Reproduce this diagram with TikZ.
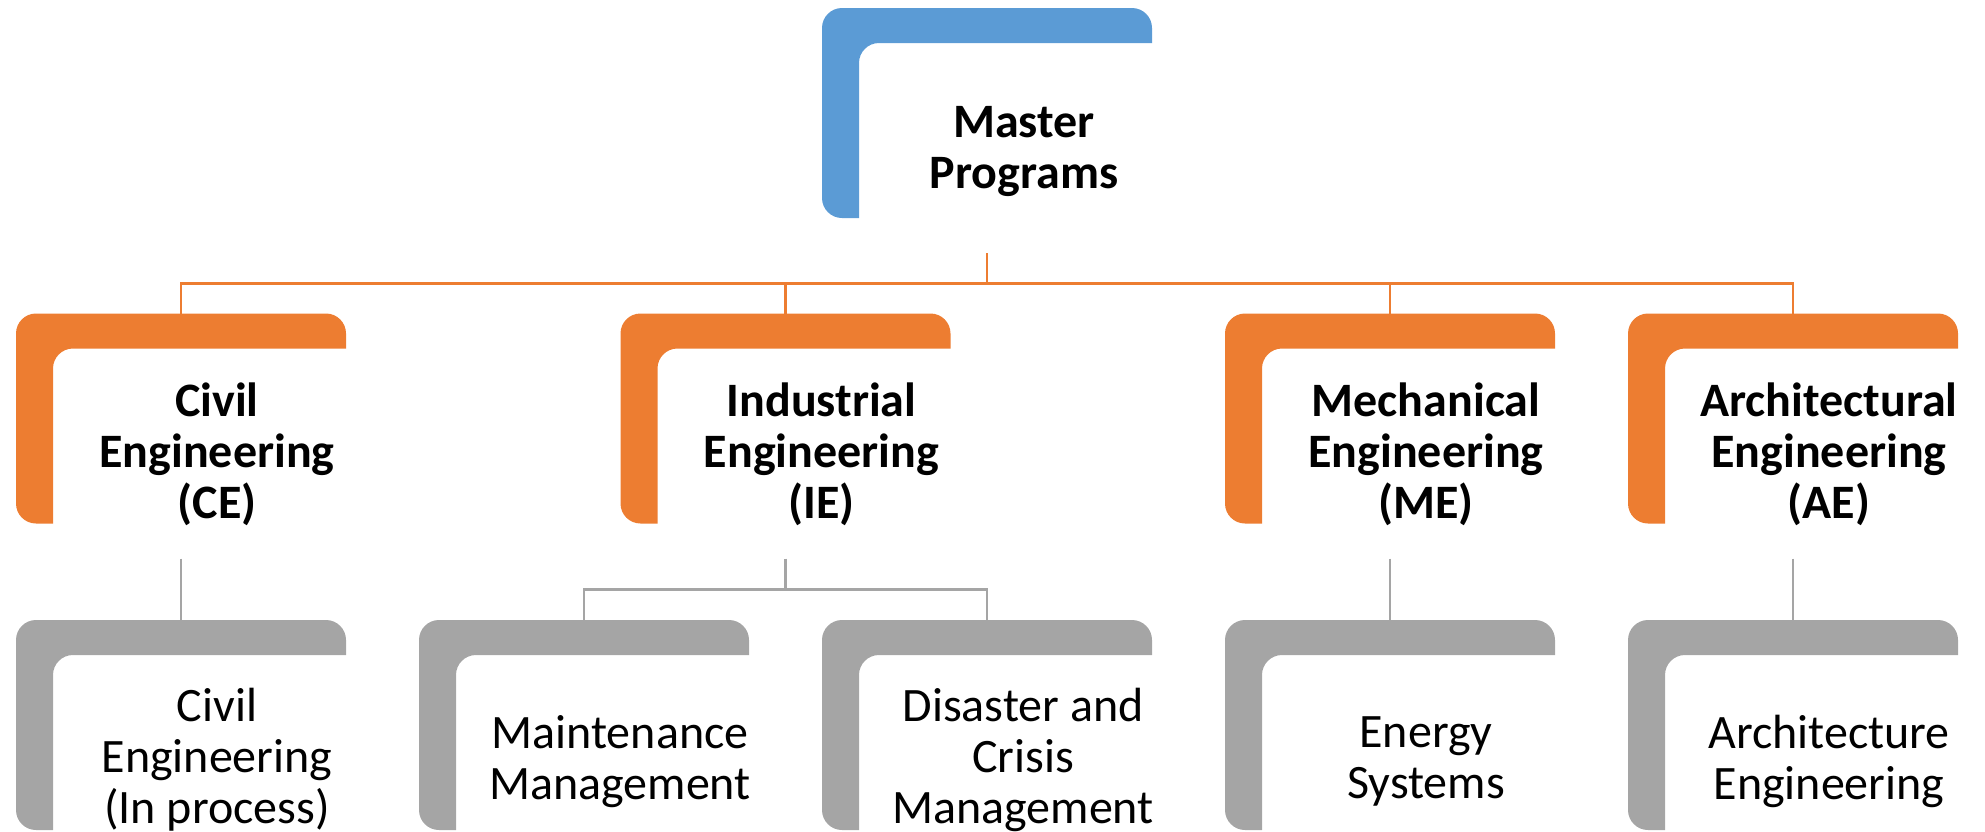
\documentclass[tikz,border=0pt]{standalone}
\usepackage{fontspec}
\setmainfont{Carlito}

\definecolor{progblue}{HTML}{5B9BD5}
\definecolor{deptorange}{HTML}{ED7D31}
\definecolor{trackgray}{HTML}{A5A5A5}

\tikzset{
	cornerbox/.style={minimum width=330pt, minimum height=210pt,
		inner sep=0pt, outer sep=0pt,
		path picture={
			\fill[#1] (path picture bounding box.north east) ++(0,-35) -- ++(0,15)
				arc[start angle=0, end angle=90, radius=20pt] -- ++(-290,0)
				arc[start angle=90, end angle=180, radius=20pt] -- ++(0,-170)
				arc[start angle=180, end angle=270, radius=20pt] -- ++(17,0)
				-- ++(0,155) arc[start angle=180, end angle=90, radius=20pt] -- cycle;
		}},
	headtext/.style={font=\bfseries\fontsize{48}{51}\selectfont, align=center,
		execute at begin node=\strut, execute at end node=\strut},
	depttext/.style={font=\bfseries\fontsize{48}{51}\selectfont, align=center,
		execute at begin node=\strut, execute at end node=\strut},
	tracktext/.style={font=\fontsize{48}{51}\selectfont, align=center,
		execute at begin node=\strut, execute at end node=\strut},
	orangelink/.style={draw=deptorange, line width=2.5pt},
	graylink/.style={draw=trackgray, line width=2.5pt}
}

\begin{document}
\begin{tikzpicture}[x=1pt, y=1pt]
	\useasboundingbox (0,0) rectangle (1985,-831);

	% top level
	\node[cornerbox=progblue] (master) at (987,-113) {};
	\node[headtext] (master-t) at ([shift={(37,-42)}]master.center)
		{Master\\Programs};

	% departments
	\node[cornerbox=deptorange] (ce) at (181,-418.5) {};
	\node[cornerbox=deptorange] (ie) at (785.5,-418.5) {};
	\node[cornerbox=deptorange] (me) at (1390,-418.5) {};
	\node[cornerbox=deptorange] (ae) at (1793,-418.5) {};
	\node[depttext] (ce-t) at ([shift={(36,-40)}]ce.center)
		{Civil\\Engineering\\(CE)};
	\node[depttext] (ie-t) at ([shift={(36,-40)}]ie.center)
		{Industrial\\Engineering\\(IE)};
	\node[depttext] (me-t) at ([shift={(36,-40)}]me.center)
		{Mechanical\\Engineering\\(ME)};
	\node[depttext] (ae-t) at ([shift={(36,-40)}]ae.center)
		{Architectural\\Engineering\\(AE)};

	% programs
	\node[cornerbox=trackgray] (civ) at (181,-725) {};
	\node[cornerbox=trackgray] (mnt) at (584,-725) {};
	\node[cornerbox=trackgray] (dcm) at (987,-725) {};
	\node[cornerbox=trackgray] (ens) at (1390,-725) {};
	\node[cornerbox=trackgray] (are) at (1793,-725) {};
	\node[tracktext] (civ-t) at ([shift={(36,-38)}]civ.center)
		{Civil\\Engineering\\(In process)};
	\node[tracktext] (mnt-t) at ([shift={(36,-40)}]mnt.center)
		{Maintenance\\Management};
	\node[tracktext] (dcm-t) at ([shift={(36,-38)}]dcm.center)
		{Disaster and\\Crisis\\Management};
	\node[tracktext] (ens-t) at ([shift={(36,-40)}]ens.center)
		{Energy\\Systems};
	\node[tracktext] (are-t) at ([shift={(36,-40)}]are.center)
		{Architecture\\Engineering};

	% links
	\coordinate (hub) at ([yshift=-65.5pt]master.south);
	\draw[orangelink] ([yshift=-35pt]master.south) -- (hub);
	\draw[orangelink] (hub) -| (ce.north);
	\draw[orangelink] (hub) -| (ie.north);
	\draw[orangelink] (hub) -| (me.north);
	\draw[orangelink] (hub) -| (ae.north);

	\draw[graylink] ([yshift=-35pt]ce.south) -- (civ.north);
	\coordinate (iehub) at ([yshift=-66pt]ie.south);
	\draw[graylink] ([yshift=-35pt]ie.south) -- (iehub);
	\draw[graylink] (iehub) -| (mnt.north);
	\draw[graylink] (iehub) -| (dcm.north);
	\draw[graylink] ([yshift=-35pt]me.south) -- (ens.north);
	\draw[graylink] ([yshift=-35pt]ae.south) -- (are.north);
\end{tikzpicture}
\end{document}
